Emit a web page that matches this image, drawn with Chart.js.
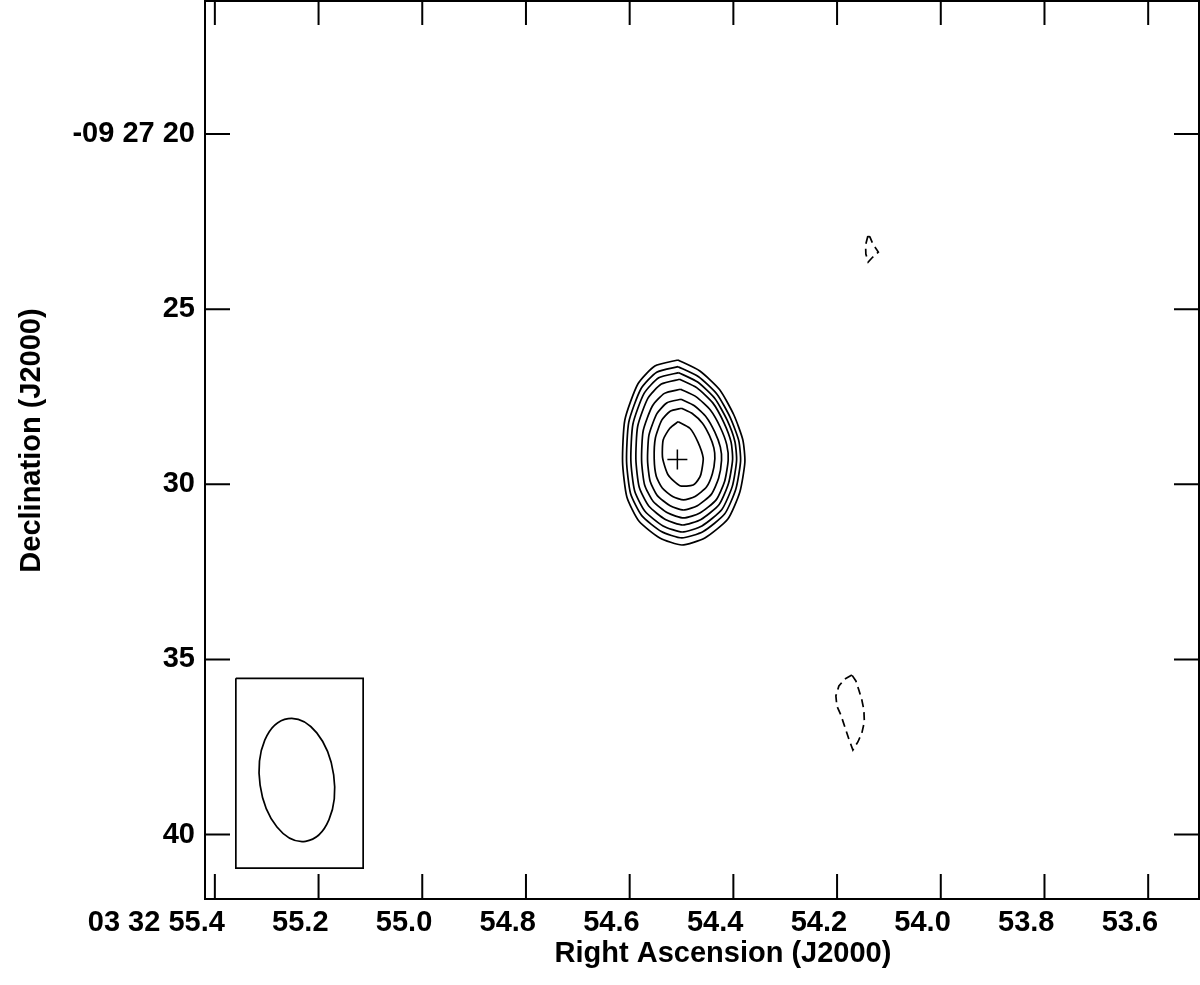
<!DOCTYPE html>
<html><head><meta charset="utf-8">
<script src="https://cdn.jsdelivr.net/npm/chart.js@4/dist/chart.umd.min.js"></script>
<style>html,body{margin:0;padding:0;background:#fff;}#wrap{width:1200px;height:985px;}</style>
</head><body><div id="wrap"><canvas id="c" width="1200" height="985"></canvas></div>
<script>
// ---- axis data ----
const xTickValues = [55.4, 55.2, 55.0, 54.8, 54.6, 54.4, 54.2, 54.0, 53.8, 53.6];
const xTickLabels = ['03 32 55.4', '55.2', '55.0', '54.8', '54.6', '54.4', '54.2', '54.0', '53.8', '53.6'];
const yTickValues = [20, 25, 30, 35, 40];
const yTickLabels = ['-09 27 20', '25', '30', '35', '40'];
const xRange = [53.502, 55.419];   // RA seconds (03h32m)
const yRange = [16.203, 41.84];    // Dec arcsec (-09d27m)
const xTitle = 'Right Ascension (J2000)';
const yTitle = 'Declination (J2000)';

// ---- positive contours: [RA s, Dec arcsec] ----
const contour1 = [[54.5070,26.452],[54.4646,26.766],[54.4260,27.308],[54.3990,28.022],[54.3817,28.735],[54.3778,29.363],[54.3875,30.220],[54.4106,30.991],[54.4550,31.533],[54.4993,31.733],[54.5418,31.533],[54.5823,31.048],[54.6054,30.363],[54.6137,29.363],[54.6093,28.164],[54.5842,27.137],[54.5514,26.623]];
const contour2 = [[54.5067,26.643],[54.4671,26.931],[54.4312,27.436],[54.4060,28.096],[54.3896,28.755],[54.3861,29.338],[54.3952,30.134],[54.4166,30.842],[54.4581,31.347],[54.4993,31.533],[54.5389,31.347],[54.5767,30.896],[54.5983,30.266],[54.6060,29.338],[54.6017,28.227],[54.5784,27.279],[54.5479,26.800]];
const contour3 = [[54.5055,26.814],[54.4689,27.082],[54.4357,27.551],[54.4122,28.164],[54.3971,28.778],[54.3938,29.321],[54.4021,30.060],[54.4222,30.719],[54.4606,31.188],[54.4987,31.362],[54.5356,31.188],[54.5705,30.771],[54.5905,30.183],[54.5977,29.321],[54.5938,28.287],[54.5722,27.405],[54.5439,26.960]];
const contour4 = [[54.5038,27.003],[54.4702,27.248],[54.4397,27.676],[54.4183,28.239],[54.4044,28.798],[54.4015,29.295],[54.4093,29.971],[54.4274,30.577],[54.4625,31.005],[54.4976,31.162],[54.5311,31.005],[54.5632,30.622],[54.5815,30.086],[54.5880,29.295],[54.5846,28.350],[54.5647,27.542],[54.5389,27.137]];
const contour5 = [[54.5016,27.288],[54.4716,27.505],[54.4444,27.882],[54.4251,28.379],[54.4127,28.875],[54.4100,29.312],[54.4168,29.912],[54.4332,30.445],[54.4646,30.822],[54.4960,30.962],[54.5261,30.822],[54.5549,30.485],[54.5713,30.011],[54.5770,29.312],[54.5740,28.478],[54.5562,27.765],[54.5329,27.405]];
const contour6 = [[54.5011,27.574],[54.4752,27.759],[54.4521,28.085],[54.4357,28.513],[54.4251,28.938],[54.4228,29.315],[54.4285,29.829],[54.4426,30.288],[54.4694,30.614],[54.4962,30.734],[54.5219,30.614],[54.5466,30.323],[54.5605,29.914],[54.5655,29.315],[54.5628,28.598],[54.5475,27.985],[54.5279,27.673]];
const contour7 = [[54.4999,27.830],[54.4787,27.985],[54.4596,28.256],[54.4463,28.607],[54.4376,28.961],[54.4357,29.272],[54.4405,29.700],[54.4519,30.080],[54.4739,30.348],[54.4960,30.448],[54.5171,30.348],[54.5371,30.108],[54.5487,29.769],[54.5527,29.272],[54.5504,28.678],[54.5381,28.170],[54.5219,27.913]];
const contour8 = [[54.5065,28.213],[54.4839,28.401],[54.4685,28.792],[54.4582,29.249],[54.4608,29.592],[54.4646,29.792],[54.4775,30.020],[54.5032,30.040],[54.5257,29.735],[54.5365,29.249],[54.5354,28.735],[54.5225,28.401]];
// ---- negative (dashed) contours ----
const negContour1 = [[54.1406,22.912],[54.1450,23.169],[54.1445,23.426],[54.1400,23.654],[54.1329,23.540],[54.1204,23.369],[54.1310,23.140],[54.1367,22.940]];
const negContour2 = [[54.1715,35.444],[54.1850,35.558],[54.1965,35.758],[54.2023,36.043],[54.2004,36.329],[54.1927,36.586],[54.1850,36.928],[54.1773,37.271],[54.1695,37.585],[54.1599,37.357],[54.1522,37.100],[54.1474,36.786],[54.1483,36.443],[54.1522,36.158],[54.1580,35.872],[54.1637,35.615]];
// ---- source position (cross) ----
const peak = [54.508, 29.292];
// ---- restoring beam ----
const beamBoxRA = [55.3595, 55.114];
const beamBoxDec = [35.54, 40.96];
const beamCenter = [55.2418, 38.441];
const beamMajor = 3.54;   // arcsec
const beamMinor = 2.12;   // arcsec
const beamPA = 8;         // deg
const fieldDecDeg = -9.456;

const toPts = arr => arr.map(p => ({x: p[0], y: p[1]}));
const closed = arr => { const p = toPts(arr); p.push({...p[0]}); return p; };

const positive = [contour1, contour2, contour3, contour4, contour5, contour6, contour7, contour8];
const datasets = [];
positive.forEach(c => datasets.push({data: closed(c), showLine: true, borderColor: '#000', borderWidth: 1.7, pointRadius: 0, tension: 0.2, fill: false}));
[negContour1, negContour2].forEach(c => datasets.push({data: closed(c), showLine: true, borderColor: '#000', borderWidth: 1.7, borderDash: [8, 5], pointRadius: 0, tension: 0, fill: false}));
datasets.push({data: [{x: peak[0], y: peak[1]}], pointStyle: 'cross', pointRadius: 10, borderColor: '#000', borderWidth: 1.5, showLine: false});
datasets.push({data: [
  {x: beamBoxRA[0], y: beamBoxDec[0]}, {x: beamBoxRA[1], y: beamBoxDec[0]},
  {x: beamBoxRA[1], y: beamBoxDec[1]}, {x: beamBoxRA[0], y: beamBoxDec[1]},
  {x: beamBoxRA[0], y: beamBoxDec[0]}], showLine: true, borderColor: '#000', borderWidth: 1.7, pointRadius: 0, tension: 0, fill: false});

const FONT = '"Liberation Sans", Arial, Helvetica, sans-serif';

const deco = {
  id: 'deco',
  afterDatasetsDraw(chart) {
    const {ctx, chartArea: a, scales: {x, y}} = chart;
    ctx.save();
    ctx.strokeStyle = '#000';
    ctx.lineWidth = 2;
    ctx.beginPath();
    x.ticks.forEach(t => {
      const px = x.getPixelForValue(t.value);
      ctx.moveTo(px, a.top); ctx.lineTo(px, a.top + 24);
      ctx.moveTo(px, a.bottom); ctx.lineTo(px, a.bottom - 25);
    });
    y.ticks.forEach(t => {
      const py = y.getPixelForValue(t.value);
      ctx.moveTo(a.left, py); ctx.lineTo(a.left + 25, py);
      ctx.moveTo(a.right, py); ctx.lineTo(a.right - 25, py);
    });
    ctx.stroke();
    ctx.strokeRect(a.left, a.top, a.right - a.left, a.bottom - a.top);
    // beam ellipse
    const cx = x.getPixelForValue(beamCenter[0]);
    const cy = y.getPixelForValue(beamCenter[1]);
    const pxPerArcsecY = Math.abs(y.getPixelForValue(beamCenter[1] + 1) - cy);
    const pxPerSec = Math.abs(x.getPixelForValue(beamCenter[0] + 1) - cx);
    const pxPerArcsecX = pxPerSec / (15 * Math.cos(fieldDecDeg * Math.PI / 180));
    ctx.lineWidth = 1.7;
    ctx.beginPath();
    ctx.ellipse(cx, cy, beamMinor / 2 * pxPerArcsecX, beamMajor / 2 * pxPerArcsecY, -beamPA * Math.PI / 180, 0, Math.PI * 2);
    ctx.stroke();
    // axis titles
    ctx.fillStyle = '#000';
    ctx.font = 'bold 29px ' + FONT;
    ctx.textAlign = 'center';
    ctx.textBaseline = 'middle';
    ctx.fillText(xTitle, 723, 954);
    ctx.translate(32, 440.5);
    ctx.rotate(-Math.PI / 2);
    ctx.fillText(yTitle, 0, 0);
    ctx.restore();
  }
};

const labelFor = (vals, labs) => function (value) {
  const i = vals.findIndex(t => Math.abs(t - value) < 1e-6);
  return i >= 0 ? labs[i] : '';
};

new Chart(document.getElementById('c'), {
  type: 'scatter',
  data: {datasets},
  options: {
    responsive: false,
    animation: false,
    layout: {autoPadding: false, padding: {top: 1, right: 1, left: 0, bottom: 0}},
    plugins: {legend: {display: false}, tooltip: {enabled: false}},
    scales: {
      x: {
        type: 'linear', reverse: true, min: xRange[0], max: xRange[1],
        afterBuildTicks: s => { s.ticks = xTickValues.map(v => ({value: v})); },
        afterFit: s => { s.height = 86; s.paddingLeft = 0; s.paddingRight = 0; },
        grid: {display: false, drawTicks: false}, border: {display: false},
        ticks: {autoSkip: false, maxRotation: 0, minRotation: 0, align: 'end', labelOffset: 10, padding: 7,
          color: '#000', font: {family: FONT, size: 29, weight: 'bold'},
          callback: labelFor(xTickValues, xTickLabels)}
      },
      y: {
        type: 'linear', reverse: true, min: yRange[0], max: yRange[1],
        afterBuildTicks: s => { s.ticks = yTickValues.map(v => ({value: v})); },
        afterFit: s => { s.width = 205; s.paddingTop = 0; s.paddingBottom = 0; },
        grid: {display: false, drawTicks: false}, border: {display: false},
        ticks: {autoSkip: false, padding: 10, color: '#000', font: {family: FONT, size: 29, weight: 'bold'},
          callback: labelFor(yTickValues, yTickLabels)}
      }
    }
  },
  plugins: [deco]
});
</script>
</body></html>
